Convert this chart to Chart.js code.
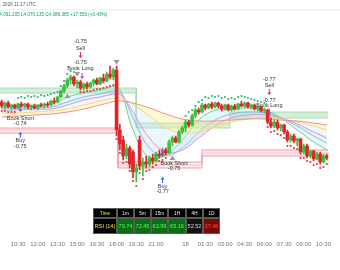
<!DOCTYPE html>
<html>
<head>
<meta charset="utf-8">
<script src="https://cdn.jsdelivr.net/npm/chart.js@4.4.1/dist/chart.umd.min.js"></script>
<style>
  html, body { margin: 0; padding: 0; background: #fff; }
  #c { display: block; }
</style>
</head>
<body>
<canvas id="c" width="340" height="270"></canvas>
<script>
// 15 minute candles, bar index 0..99
const opens = [4099, 4097, 4098.5, 4096.5, 4097.5, 4096, 4098, 4097, 4098, 4096.5, 4097, 4096, 4097.5, 4097, 4098, 4097.5, 4099.5, 4099,
  4101.5, 4104.5, 4107, 4110, 4111.5, 4108, 4109, 4106, 4108, 4106.5, 4108.5, 4110, 4108, 4111, 4109.5, 4113, 4111.5,
  4115, 4085, 4080, 4072, 4076, 4074, 4064, 4080, 4067, 4069, 4068, 4071, 4069.5, 4073, 4072, 4075,
  4073.5, 4079, 4081, 4079, 4084, 4086, 4089, 4087.5, 4092, 4095, 4094, 4097.5, 4096, 4098, 4096.5, 4098.5,
  4097, 4095.5, 4097.5, 4095, 4097, 4095.5, 4098, 4097, 4098.5, 4096.5, 4097.5, 4095.5, 4096.5, 4094.5,
  4095, 4089, 4087, 4089, 4086, 4087.5, 4084, 4080, 4082, 4079.5, 4080.5, 4074, 4077, 4072, 4074.5, 4070.5, 4073, 4069, 4072];
const highs = [4100, 4099, 4099.5, 4098, 4098, 4098.5, 4099, 4098.5, 4098.5, 4097.5, 4098, 4097.5, 4098.5, 4098.5, 4099, 4100, 4101, 4102,
  4105, 4108, 4111, 4112.5, 4112, 4110, 4110, 4108.5, 4109, 4109, 4110.5, 4111, 4111.5, 4113, 4114, 4117, 4116,
  4117, 4088, 4082, 4078, 4077, 4075, 4068, 4082, 4071, 4072, 4072, 4073, 4074, 4075, 4076, 4076,
  4080, 4082, 4082, 4085, 4087, 4090, 4090, 4093, 4096, 4096, 4098.5, 4098, 4098.5, 4099, 4099, 4099,
  4098, 4098, 4098, 4097.5, 4098, 4098.5, 4099.5, 4099, 4099, 4098, 4098, 4097, 4097, 4096,
  4095.5, 4091, 4090, 4090, 4088, 4088, 4085, 4083, 4083, 4081, 4081, 4078, 4078, 4075, 4075, 4074, 4074, 4073, 4073];
const lows = [4096, 4095.5, 4096, 4095, 4095.5, 4095.5, 4096.5, 4096, 4095.5, 4095, 4095.5, 4095, 4096.5, 4096, 4096.5, 4097, 4098, 4098.5,
  4101, 4103.5, 4106, 4108, 4107, 4106, 4105, 4105, 4105.5, 4106, 4107, 4107.5, 4107.5, 4108.5, 4109, 4110.5, 4110,
  4082, 4075, 4070, 4070.5, 4066, 4061, 4059, 4065, 4062, 4066, 4066.5, 4068, 4069, 4071, 4071.5, 4072.5,
  4073, 4077, 4078.5, 4078.5, 4083, 4084, 4086.5, 4087, 4091, 4093, 4093.5, 4095, 4095.5, 4095.5, 4096, 4096,
  4094.5, 4095, 4094.5, 4094.5, 4095, 4095, 4096.5, 4096, 4096, 4095.5, 4095, 4094.5, 4094, 4093.5,
  4088, 4086, 4086, 4085, 4084.5, 4083, 4079, 4079, 4078.5, 4077, 4073, 4073, 4071, 4071, 4069.5, 4070, 4068, 4068.5, 4070];
const closes = [4097, 4098.5, 4096.5, 4097.5, 4096, 4098, 4097, 4098, 4096.5, 4097, 4096, 4097.5, 4097, 4098, 4097.5, 4099.5, 4099, 4101.5,
  4104.5, 4107, 4110, 4111.5, 4108, 4109, 4106, 4108, 4106.5, 4108.5, 4110, 4108, 4111, 4109.5, 4113, 4111.5, 4115,
  4085, 4078, 4072, 4076, 4068, 4064, 4066, 4067, 4069, 4068, 4071, 4069.5, 4073, 4072, 4075, 4073.5,
  4079, 4081, 4079, 4084, 4086, 4089, 4087.5, 4092, 4095, 4094, 4097.5, 4096, 4098, 4096.5, 4098.5, 4097,
  4095.5, 4097.5, 4095, 4097, 4095.5, 4098, 4097, 4098.5, 4096.5, 4097.5, 4095.5, 4096.5, 4094.5, 4095,
  4089, 4087, 4089, 4086, 4087.5, 4084, 4080, 4082, 4079.5, 4080.5, 4074, 4077, 4072, 4074.5, 4070.5, 4073, 4069, 4072, 4071];

// moving average ribbon, sampled every few bars
const ribbonBars = [0, 5, 10, 15, 20, 25, 30, 35, 37, 40, 45, 50, 55, 60, 65, 70, 75, 80, 85, 90, 95, 99];
const maFast   = [4097, 4097, 4097.5, 4098, 4101.5, 4103.5, 4105, 4106.5, 4101, 4085, 4071, 4072.5, 4080, 4090, 4095, 4095.5, 4096, 4095, 4091, 4085, 4079, 4075];
const maBlue   = [4096, 4096, 4096, 4096.5, 4099, 4101.5, 4103, 4104.5, 4102, 4091, 4076, 4072, 4076, 4084, 4090, 4093, 4094, 4093.5, 4091, 4087, 4082, 4078.5];
const maPurple = [4095, 4095, 4095.5, 4095.5, 4097.5, 4100, 4101.5, 4103, 4101.5, 4094, 4081, 4074, 4075, 4081, 4087, 4091, 4092.5, 4092.5, 4091, 4088, 4084, 4081];
const maYellow = [4093.5, 4093.5, 4094, 4094.5, 4095.5, 4097.5, 4099.5, 4101, 4100.5, 4098, 4092, 4086, 4083.5, 4084, 4086.5, 4089, 4090.5, 4091, 4090.5, 4089, 4087, 4085];
const maSlow   = [4091.5, 4092, 4092.5, 4093, 4094, 4095.5, 4097.5, 4099.5, 4099.5, 4098.5, 4096, 4093, 4090.5, 4089.5, 4089.5, 4090, 4090.5, 4090.5, 4090, 4089.5, 4088.5, 4087.5];

// zones (step levels)
const greenStart = [-0.5, 41, 69.5];
const greenEnd = [41, 69.5, 99.5];
const greenTop = [4106, 4088.5, 4094];
const greenBottom = [4103.5, 4086, 4091];
const pinkStart = [-0.5, 35.5, 61];
const pinkEnd = [35.5, 61, 99.5];
const pinkTop = [4086, 4069, 4075];
const pinkMid = [4085, 4067.5, 4073.5];
const pinkBottom = [4083.5, 4066, 4072];

// trailing dots
const greenDotBars = [5, 6, 7, 8, 9, 10, 11, 12, 13, 14, 15, 16, 17, 18, 19, 20, 21, 22, 23,
  56, 57, 58, 59, 60, 61, 62, 63, 64, 65, 66, 67, 68, 69, 70, 71, 72, 73, 74, 75, 76, 77, 78, 79, 80];
const greenDotPrices = [4101, 4101.5, 4101, 4102, 4101.5, 4102, 4101.5, 4102.5, 4102, 4102.5, 4103, 4103.5, 4104, 4107, 4109.5, 4113, 4114.5, 4114, 4113,
  4092, 4094, 4095, 4097, 4099, 4100, 4101.5, 4101, 4102, 4101.5, 4102, 4101, 4101.5, 4100.5, 4101, 4100.5, 4101.5, 4102, 4101.5, 4101, 4100.5, 4100, 4099.5, 4099, 4098.5];
const redDotBars = [0, 1, 2, 3, 4, 24, 25, 26, 27, 28, 29, 30, 31, 32, 33, 34,
  35, 36, 37, 38, 39, 40, 41, 42, 43, 44, 45, 46, 47, 48, 49, 50,
  81, 82, 83, 84, 85, 86, 87, 88, 89, 90, 91, 92, 93, 94, 95, 96, 97, 98, 99];
const redDotPrices = [4094.5, 4094.5, 4094, 4094, 4094, 4104, 4104, 4104.5, 4104.5, 4105, 4105.5, 4105.5, 4106, 4106.5, 4107, 4107.5,
  4080.5, 4073.5, 4068.5, 4069, 4064.5, 4059.5, 4057, 4063.5, 4060.5, 4064.5, 4065, 4066.5, 4067.5, 4069.5, 4070, 4071,
  4086.5, 4084, 4084.5, 4083, 4082.5, 4081, 4077, 4077, 4076, 4075.5, 4071, 4071, 4069.5, 4069, 4067.5, 4068, 4066, 4066.5, 4068];

// signal markers and labels
const markerKinds = ['book', 'buy', 'flagUp', 'sell', 'flagDown', 'book', 'flagDown', 'book', 'flagUp', 'buy', 'sell', 'book'];
const markerBars = [5.7, 5.7, 20, 24, 23, 24.5, 35, 49, 52, 49, 81.5, 81.5];
const markerPrices = [4095.5, 4082.5, 4102, 4122.5, 4113, 4112, 4119, 4073.5, 4071, 4060, 4104, 4094];
const labelTexts = ['Book Short', '-0.74', 'Buy', '-0.75', '-0.75', 'Sell', '-0.75', 'Book Long',
  'Book Short', '-0.75', 'Buy', '-0.77', '-0.77', 'Sell', '-0.77', 'Book Long'];
const labelBars = [5.7, 5.7, 5.7, 5.7, 24, 24, 24, 24, 52.5, 52.5, 49, 49, 81.5, 81.5, 81.5, 81.5];
const labelPrices = [4091, 4088.5, 4080, 4077, 4129.5, 4126, 4119, 4116, 4068.5, 4066, 4057, 4054.5, 4110.5, 4107.5, 4100, 4097.5];

// x axis
const tickBars = [5, 11, 17, 23, 29, 35, 41, 47, 56, 62, 68, 74, 80, 86, 92, 98];
const tickLabels = ['10:30', '12:00', '13:30', '15:00', '16:30', '18:00', '19:30', '21:00', '18', '01:30', '03:00', '04:30', '06:00', '07:30', '09:00', '10:30'];

// RSI table
const rsiFrames = ['1m', '5m', '15m', '1H', '4H', '1D'];
const rsiValues = [79.74, 72.45, 63.99, 65.16, 52.52, 37.46];

const headerTime = ', 2026 11:17 UTC';
const headerOhlc = 'H4,091.205 L4,070.135 C4,088.385 +17.555 (+0.43%)';

const UP = '#3cbf3c', DOWN = '#e3232b';
const candleColor = (i) => closes[i] >= opens[i] ? UP : DOWN;

function stepBand(starts, ends, levels) {
  const pts = [];
  starts.forEach((s, k) => {
    pts.push({ x: s, y: levels[k] });
    pts.push({ x: ends[k], y: levels[k] });
  });
  return pts;
}
const ribbon = (vals) => ribbonBars.map((b, k) => ({ x: b, y: vals[k] }));

const lineBase = { type: 'line', pointRadius: 0, borderWidth: 1, tension: 0 };

const datasets = [
  // zones
  Object.assign({}, lineBase, { data: stepBand(greenStart, greenEnd, greenTop), borderColor: '#a9dcb0', order: 20 }),
  Object.assign({}, lineBase, { data: stepBand(greenStart, greenEnd, greenBottom), borderColor: '#a9dcb0', fill: '-1', backgroundColor: 'rgba(170,222,180,0.5)', order: 20 }),
  Object.assign({}, lineBase, { data: stepBand(pinkStart, pinkEnd, pinkTop), borderColor: '#f0a0a6', order: 19 }),
  Object.assign({}, lineBase, { data: stepBand(pinkStart, pinkEnd, pinkBottom), borderColor: '#f0a0a6', fill: '-1', backgroundColor: 'rgba(252,214,218,0.5)', order: 19 }),
  Object.assign({}, lineBase, { data: stepBand(pinkStart, pinkEnd, pinkMid), borderColor: '#f3b3b8', order: 19 }),
  // ribbon
  Object.assign({}, lineBase, { data: ribbon(maSlow), borderColor: '#f28b8b', tension: 0.4, order: 10 }),
  Object.assign({}, lineBase, { data: ribbon(maYellow), borderColor: '#f5d76e', tension: 0.4, fill: '-1', backgroundColor: 'rgba(255,236,140,0.35)', order: 10 }),
  Object.assign({}, lineBase, { data: ribbon(maPurple), borderColor: '#c59be0', tension: 0.4, fill: '-1', backgroundColor: 'rgba(200,230,250,0.35)', order: 10 }),
  Object.assign({}, lineBase, { data: ribbon(maBlue), borderColor: '#7cbde8', tension: 0.4, fill: '-1', backgroundColor: 'rgba(210,200,240,0.3)', order: 10 }),
  Object.assign({}, lineBase, { data: ribbon(maFast), borderColor: '#6fcf8a', tension: 0.4, fill: '-1', backgroundColor: 'rgba(180,230,230,0.35)', order: 10 }),
  // candles
  {
    type: 'bar', data: lows.map((l, i) => ({ x: i, y: [l, highs[i]] })),
    backgroundColor: (c) => candleColor(c.dataIndex), barThickness: 1, grouped: false, order: 3
  },
  {
    type: 'bar', data: opens.map((o, i) => ({ x: i, y: [o, closes[i]] })),
    backgroundColor: (c) => candleColor(c.dataIndex), barThickness: 3, minBarLength: 1, grouped: false, order: 2
  },
  // dots
  { type: 'line', showLine: false, data: greenDotBars.map((b, k) => ({ x: b, y: greenDotPrices[k] })), pointRadius: 1.1, pointBorderWidth: 0, pointBackgroundColor: '#2bb673', order: 1 },
  { type: 'line', showLine: false, data: redDotBars.map((b, k) => ({ x: b, y: redDotPrices[k] })), pointRadius: 1.1, pointBorderWidth: 0, pointBackgroundColor: '#e53935', order: 1 }
];

const overlay = {
  id: 'overlay',
  afterDatasetsDraw(chart) {
    const { ctx, scales: { x, y } } = chart;
    ctx.save();
    markerKinds.forEach((kind, k) => {
      const px = x.getPixelForValue(markerBars[k]);
      const py = y.getPixelForValue(markerPrices[k]);
      if (kind === 'flagUp' || kind === 'flagDown') {
        const d = kind === 'flagUp' ? -1 : 1;
        ctx.fillStyle = '#9a9a9a';
        ctx.beginPath();
        ctx.moveTo(px - 3, py - 2 * d);
        ctx.lineTo(px + 3, py - 2 * d);
        ctx.lineTo(px, py + 2.5 * d);
        ctx.closePath();
        ctx.fill();
      } else {
        const d = kind === 'buy' ? -1 : 1;
        ctx.fillStyle = ctx.strokeStyle = kind === 'buy' ? '#2962ff' : kind === 'sell' ? '#e91e63' : '#a040c0';
        ctx.lineWidth = 1;
        ctx.beginPath();
        ctx.moveTo(px, py - 3 * d);
        ctx.lineTo(px, py + 1 * d);
        ctx.stroke();
        ctx.beginPath();
        ctx.moveTo(px - 2, py + 0.5 * d);
        ctx.lineTo(px + 2, py + 0.5 * d);
        ctx.lineTo(px, py + 3 * d);
        ctx.closePath();
        ctx.fill();
      }
    });
    ctx.fillStyle = '#333';
    ctx.font = '5.5px Arial, "Liberation Sans", sans-serif';
    ctx.textAlign = 'center';
    ctx.textBaseline = 'middle';
    labelTexts.forEach((t, k) => {
      ctx.fillText(t, x.getPixelForValue(labelBars[k]), y.getPixelForValue(labelPrices[k]));
    });
    ctx.restore();
  },
  afterDraw(chart) {
    const ctx = chart.ctx;
    ctx.save();
    // header
    ctx.fillStyle = '#f2f2f2';
    ctx.fillRect(0, 9, 340, 1.5);
    ctx.font = '4.6px Arial, "Liberation Sans", sans-serif';
    ctx.textAlign = 'left';
    ctx.textBaseline = 'middle';
    ctx.fillStyle = '#555';
    ctx.fillText(headerTime, 0, 5);
    ctx.fillStyle = '#089981';
    ctx.fillText(headerOhlc, -4, 15);
    // RSI table
    const cols = [93, 117, 134, 151, 168, 186, 203, 220];
    const rows = [208, 218, 234];
    const cells = [['Time'].concat(rsiFrames), ['RSI (14)'].concat(rsiValues.map((v) => v.toFixed(2)))];
    ctx.textAlign = 'center';
    for (let r = 0; r < 2; r++) {
      for (let c = 0; c < 7; c++) {
        let bg = '#000', fg = '#fff';
        if (c === 0) fg = '#f5e642';
        if (r === 1 && c > 0) {
          const v = rsiValues[c - 1];
          if (v > 60) { bg = '#0b6e12'; fg = '#5cff5c'; }
          else if (v < 40) { bg = '#7a0a0a'; fg = '#ff4a4a'; }
          else { bg = '#111'; fg = '#ddd'; }
        }
        const x0 = cols[c], y0 = rows[r], w = cols[c + 1] - x0, h = rows[r + 1] - y0;
        ctx.fillStyle = bg;
        ctx.fillRect(x0, y0, w, h);
        ctx.strokeStyle = '#5a5a5a';
        ctx.lineWidth = 1;
        ctx.strokeRect(x0 + 0.5, y0 + 0.5, w - 1, h - 1);
        ctx.fillStyle = fg;
        ctx.font = (r === 0 ? '4.5px' : '5.5px') + ' Arial, "Liberation Sans", sans-serif';
        ctx.fillText(cells[r][c], x0 + w / 2, y0 + h / 2 + 0.5);
      }
    }
    ctx.restore();
  }
};

new Chart(document.getElementById('c'), {
  type: 'bar',
  data: { datasets },
  options: {
    responsive: false,
    animation: false,
    events: [],
    layout: { autoPadding: false, padding: { top: 20, bottom: 24, left: 0, right: 0 } },
    plugins: { legend: { display: false }, tooltip: { enabled: false } },
    scales: {
      x: {
        type: 'linear', min: -0.5, max: 99.5, offset: false,
        grid: { display: false, drawTicks: false }, border: { display: false },
        afterBuildTicks: (s) => { s.ticks = tickBars.map((v) => ({ value: v })); },
        afterFit: (s) => { s.height = 14; },
        ticks: {
          autoSkip: false, maxRotation: 0, padding: 9, color: '#777',
          font: { size: 6, family: 'Arial, "Liberation Sans", sans-serif' },
          callback: (v, idx) => tickLabels[idx]
        }
      },
      y: { display: false, min: 4034, max: 4140 }
    }
  },
  plugins: [overlay]
});
</script>
</body>
</html>
